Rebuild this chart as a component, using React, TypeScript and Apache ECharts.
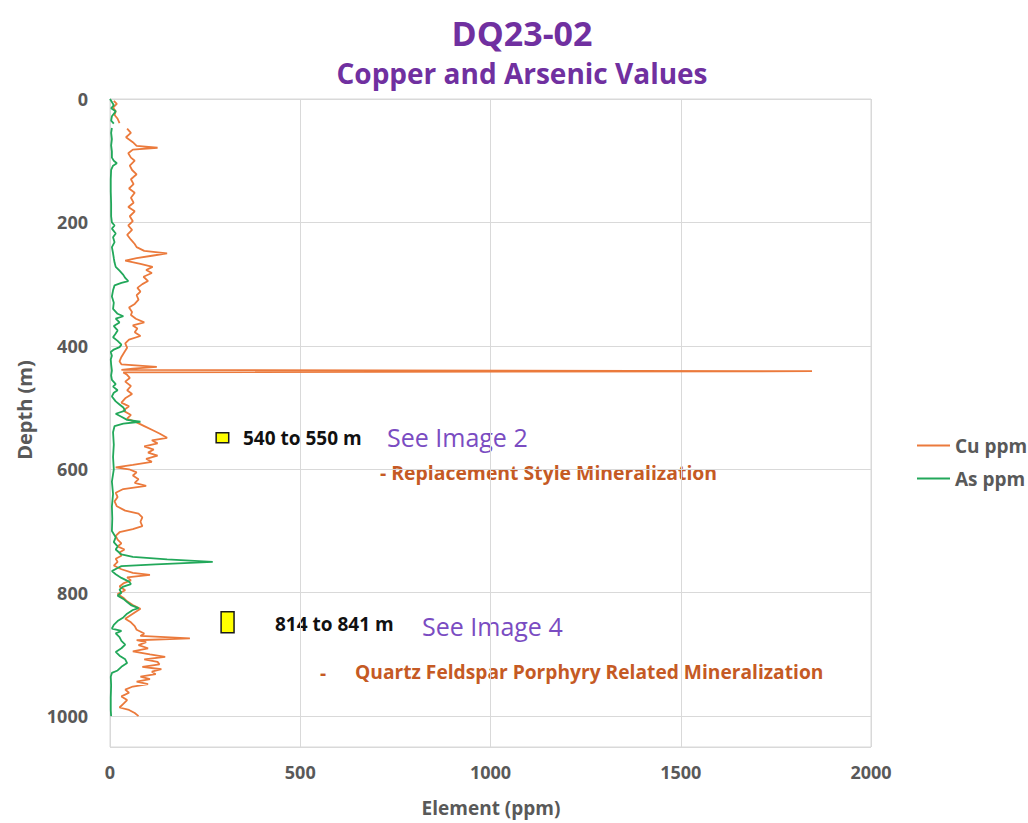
import React, { useEffect, useRef } from "react";
import * as echarts from "echarts";

// Depth (m) and copper (ppm) readings, top to bottom; null marks a gap in sampling
const cuDepth = [3, 8, 14, 20, 26, 32, 39, 44, 48, 55, 62, 70, 76, 79, 82, 88, 95, 100, 108, 115, 122, 130, 138, 145, 152, 160, 168, 175, 182, 190, 198, 205, 212, 220, 228, 235, 240, 246, 250, 254, 258, 262, 267, 272, 277, 282, 288, 295, 300, 306, 312, 318, 325, 332, 338, 345, 350, 356, 362, 367, 372, 378, 384, 390, 396, 403, 410, 418, 425, 430, 434, 437, 439, 441, 443, 447, 452, 458, 465, 472, 478, 485, 492, 498, 505, 512, 518, 524, 530, 536, 542, 549, 553, 558, 563, 568, 573, 578, 583, 588, 593, 597, 600, 605, 610, 616, 622, 627, 632, 638, 645, 652, 660, 667, 672, 678, 685, 692, 697, 702, 708, 714, 720, 725, 730, 735, 740, 745, 750, 756, 762, 768, 771, 775, 780, 785, 790, 796, 802, 808, 814, 820, 826, 830, 836, 842, 848, 854, 860, 866, 870, 874, 877, 880, 885, 890, 895, 900, 904, 908, 912, 916, 920, 924, 928, 932, 936, 940, 944, 948, 952, 957, 962, 968, 974, 980, 986, 990, 995, 1000];
const cuPpm = [10, 18, 8, 15, 12, 20, 25, null, 45, 55, 42, 60, 70, 125, 60, 48, 55, 65, 52, 58, 70, 55, 62, 50, 65, 55, 62, 48, 65, 52, 60, 48, 58, 45, 55, 65, 70, 90, 150, 110, 70, 40, 80, 112, 95, 110, 88, 100, 85, 72, 80, 70, 75, 65, 50, 58, 55, 68, 90, 60, 72, 65, 80, 50, 40, 45, 38, 30, 25, 30, 123, 60, 30, 1845, 35, 45, 52, 40, 55, 45, 58, 40, 30, 50, 35, 55, 45, 70, 90, 110, 130, 150, 110, 125, 90, 115, 100, 125, 95, 110, 60, 15, 50, 70, 60, 75, 65, 95, 35, 15, 20, 12, 18, 40, 75, 85, 80, 85, 60, 25, 15, 20, 30, 20, 38, 25, 30, 15, 20, 10, 30, 60, 105, 45, 55, 35, 25, 40, 20, 35, 45, 60, 80, 70, 55, 40, 55, 65, 70, 90, 80, 210, 70, 95, 75, 100, 60, 105, 145, 90, 125, 130, 85, 135, 110, 120, 80, 105, 70, 100, 60, 40, 50, 30, 45, 35, 25, 50, 65, 75];

// Depth (m) and arsenic (ppm) readings
const asDepth = [0, 5, 10, 15, 20, 28, 35, 40, 44, 47, 55, 65, 75, 85, 95, 100, 104, 108, 115, 130, 150, 170, 190, 200, 205, 210, 218, 224, 232, 240, 250, 258, 265, 272, 278, 285, 290, 295, 298, 302, 310, 320, 330, 340, 348, 352, 356, 362, 368, 375, 380, 386, 392, 398, 402, 406, 410, 416, 422, 430, 440, 448, 455, 462, 466, 472, 476, 482, 490, 495, 500, 505, 510, 515, 520, 523, 526, 530, 540, 560, 580, 600, 620, 640, 660, 680, 700, 710, 718, 725, 730, 738, 742, 746, 750, 754, 757, 760, 765, 770, 776, 782, 786, 790, 795, 800, 805, 810, 815, 820, 825, 828, 834, 840, 846, 852, 858, 862, 866, 872, 878, 884, 890, 896, 902, 908, 914, 920, 926, 930, 936, 950, 970, 990, 1000];
const asPpm = [0, 5, 10, 3, 15, 5, 3, 10, null, 5, 3, 5, 3, 5, 5, 10, 18, 8, 3, 2, 2, 3, 3, 5, 12, 5, 15, 8, 12, 5, 8, 10, 12, 15, 25, 35, 40, 48, 30, 12, 8, 5, 10, 8, 20, 35, 15, 25, 10, 20, 15, 8, 20, 30, 25, 10, 2, 5, 2, 3, 5, 3, 5, 15, 8, 20, 10, 5, 15, 25, 35, 40, 15, 30, 45, 80, 35, 12, 8, 10, 8, 10, 5, 8, 5, 6, 5, 15, 10, 20, 15, 30, 60, 150, 270, 120, 30, 20, 5, 15, 30, 50, 55, 35, 25, 30, 20, 35, 45, 55, 75, 60, 45, 35, 20, 10, 5, 30, 15, 25, 30, 40, 30, 15, 25, 40, 45, 30, 20, 5, 2, 3, 2, 2, 3];

// Sampled intervals highlighted on the log: [ppm from, depth from, ppm to, depth to]
const boxes = [
  [279, 541, 312, 557],
  [292, 831, 326, 865],
];

const xTicks = [0, 500, 1000, 1500, 2000];
const yTicks = [0, 200, 400, 600, 800, 1000];

const FONT = "'Open Sans', 'Noto Sans', sans-serif";
const GREY = "#595959";
const PURPLE = "#7030A0";
const ORANGE = "#C55A24";

export default function App() {
  const ref = useRef<HTMLDivElement>(null);
  useEffect(() => {
    const chart = echarts.init(ref.current!, null, { renderer: "svg" });
    const toSeries = (depth: number[], ppm: (number | null)[]) =>
      depth.map((d, i) => [ppm[i] === null ? "-" : ppm[i], d]);
    chart.setOption({
      animation: false,
      backgroundColor: "#ffffff",
      textStyle: { fontFamily: FONT },
      grid: { left: 110, right: 157, top: 99, bottom: 76, show: true, borderColor: "#D9D9D9", borderWidth: 1 },
      xAxis: {
        type: "value",
        min: xTicks[0],
        max: xTicks[xTicks.length - 1],
        interval: 500,
        axisLine: { show: false },
        axisTick: { show: false },
        splitLine: { lineStyle: { color: "#D9D9D9", width: 1 } },
        axisLabel: { color: GREY, fontSize: 18, fontWeight: "bold", margin: 16, fontFamily: FONT, formatter: (v: number) => String(v) },
      },
      yAxis: {
        type: "value",
        inverse: true,
        min: yTicks[0],
        max: 1050,
        interval: 200,
        axisLine: { show: true, lineStyle: { color: "#D9D9D9" } },
        axisTick: { show: false },
        splitLine: { lineStyle: { color: "#D9D9D9", width: 1 } },
        axisLabel: { color: GREY, fontSize: 18, fontWeight: "bold", margin: 22, showMaxLabel: false, fontFamily: FONT, formatter: (v: number) => String(v) },
      },
      legend: {
        orient: "vertical",
        left: 912,
        top: 431,
        icon: "rect",
        itemWidth: 33,
        itemHeight: 2,
        itemGap: 14,
        textStyle: { color: GREY, fontSize: 19, fontWeight: "bold", fontFamily: FONT },
        data: ["Cu ppm", "As ppm"],
      },
      series: [
        {
          name: "Cu ppm",
          type: "line",
          data: toSeries(cuDepth, cuPpm),
          symbol: "none",
          connectNulls: false,
          lineStyle: { color: "#EB7A3C", width: 1.8 },
          itemStyle: { color: "#EB7A3C" },
        },
        {
          name: "As ppm",
          type: "line",
          data: toSeries(asDepth, asPpm),
          symbol: "none",
          connectNulls: false,
          lineStyle: { color: "#22A85A", width: 1.8 },
          itemStyle: { color: "#22A85A" },
          markArea: {
            silent: true,
            itemStyle: { color: "#FFFF00", borderColor: "#1a1a1a", borderWidth: 1.5, opacity: 1 },
            label: { show: false },
            data: boxes.map((b) => [{ coord: [b[0], b[1]] }, { coord: [b[2], b[3]] }]),
          },
        },
      ],
      graphic: [
        { type: "text", x: 522, y: 33, style: { text: "DQ23-02", font: `bold 34px ${FONT}`, fill: PURPLE, textAlign: "center", textVerticalAlign: "middle" } },
        { type: "text", x: 522, y: 73, style: { text: "Copper and Arsenic Values", font: `bold 28px ${FONT}`, fill: PURPLE, textAlign: "center", textVerticalAlign: "middle" } },
        { type: "text", x: 24, y: 410, rotation: Math.PI / 2, style: { text: "Depth (m)", font: `bold 20px ${FONT}`, fill: GREY, textAlign: "center", textVerticalAlign: "middle" } },
        { type: "text", x: 491, y: 808, style: { text: "Element (ppm)", font: `bold 19px ${FONT}`, fill: GREY, textAlign: "center", textVerticalAlign: "middle" } },
        { type: "text", x: 243, y: 438, style: { text: "540 to 550 m", font: `bold 19px ${FONT}`, fill: "#111111", textVerticalAlign: "middle" } },
        { type: "text", x: 387, y: 437, style: { text: "See Image 2", font: `25px ${FONT}`, fill: "#7A4CC2", textVerticalAlign: "middle" } },
        { type: "text", x: 380, y: 472, style: { text: "- Replacement Style Mineralization", font: `bold 19.4px ${FONT}`, fill: ORANGE, textVerticalAlign: "middle" } },
        { type: "text", x: 275, y: 624, style: { text: "814 to 841 m", font: `bold 19px ${FONT}`, fill: "#111111", textVerticalAlign: "middle" } },
        { type: "text", x: 422, y: 626, style: { text: "See Image 4", font: `25px ${FONT}`, fill: "#7A4CC2", textVerticalAlign: "middle" } },
        { type: "text", x: 320, y: 673, style: { text: "-", font: `bold 19px ${FONT}`, fill: ORANGE, textVerticalAlign: "middle" } },
        { type: "text", x: 355, y: 671, style: { text: "Quartz Feldspar Porphyry Related Mineralization", font: `bold 19.2px ${FONT}`, fill: ORANGE, textVerticalAlign: "middle" } },
      ],
    });
    return () => chart.dispose();
  }, []);
  return <div ref={ref} style={{ position: "fixed", left: 0, top: 0, width: 1028, height: 823 }} />;
}
